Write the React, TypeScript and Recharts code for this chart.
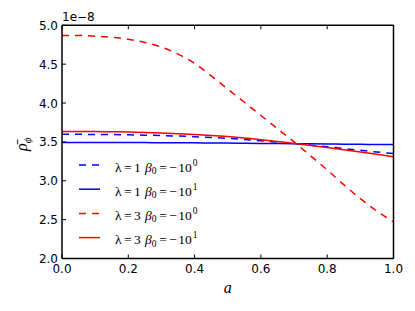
import { LineChart, Line, XAxis, YAxis, Legend, Label } from "recharts";

// a from 0 to 1, values of rho in units of 1e-8
const A_VALUES = [0, 0.05, 0.1, 0.15, 0.2, 0.25, 0.3, 0.35, 0.4, 0.45, 0.5, 0.55, 0.6, 0.65, 0.7, 0.75, 0.8, 0.85, 0.9, 0.95, 1.0];
const LAM1_BETA0 = [3.597, 3.597, 3.596, 3.594, 3.591, 3.587, 3.582, 3.575, 3.567, 3.557, 3.545, 3.531, 3.515, 3.497, 3.478, 3.458, 3.437, 3.415, 3.392, 3.37, 3.35];
const LAM1_BETA1 = [3.493, 3.493, 3.493, 3.492, 3.492, 3.491, 3.49, 3.489, 3.488, 3.486, 3.485, 3.483, 3.481, 3.479, 3.477, 3.475, 3.473, 3.471, 3.469, 3.467, 3.465];
const LAM3_BETA0 = [4.87, 4.87, 4.86, 4.845, 4.82, 4.78, 4.72, 4.63, 4.51, 4.35, 4.18, 4.01, 3.84, 3.67, 3.5, 3.32, 3.14, 2.95, 2.77, 2.61, 2.47];
const LAM3_BETA1 = [3.635, 3.635, 3.633, 3.63, 3.627, 3.622, 3.615, 3.605, 3.595, 3.583, 3.568, 3.55, 3.528, 3.505, 3.48, 3.455, 3.428, 3.4, 3.37, 3.34, 3.31];

const X_TICKS = [0, 0.2, 0.4, 0.6, 0.8, 1.0];
const Y_TICKS = [2.0, 2.5, 3.0, 3.5, 4.0, 4.5, 5.0];

const SERIES = [
  { key: "l1b0", lambda: "1", exp: "0", color: "#0000ff", dash: "7 6", values: LAM1_BETA0 },
  { key: "l1b1", lambda: "1", exp: "1", color: "#0000ff", dash: undefined, values: LAM1_BETA1 },
  { key: "l3b0", lambda: "3", exp: "0", color: "#ff0000", dash: "7 6", values: LAM3_BETA0 },
  { key: "l3b1", lambda: "3", exp: "1", color: "#ff0000", dash: undefined, values: LAM3_BETA1 },
];

const data = A_VALUES.map((a, i) => {
  const row: Record<string, number> = { a };
  SERIES.forEach((s) => {
    row[s.key] = s.values[i];
  });
  return row;
});

const SANS = "DejaVu Sans";
const SERIF = "Liberation Serif";
const TICK_LEN = 4;
const AXIS_LINE = { stroke: "#000", strokeWidth: 1.5 };

const BottomTick = (props: any) => {
  const { x, y, payload } = props;
  return (
    <g>
      <line x1={x} x2={x} y1={y} y2={y - TICK_LEN} stroke="#000" />
      <text x={x} y={y + 14.5} textAnchor="middle" fontSize={12} fontFamily={SANS} fill="#000">
        {payload.value.toFixed(1)}
      </text>
    </g>
  );
};

const TopTick = (props: any) => {
  const { x, y } = props;
  return <line x1={x} x2={x} y1={y} y2={y + TICK_LEN} stroke="#000" />;
};

const LeftTick = (props: any) => {
  const { x, y, payload } = props;
  return (
    <g>
      <line x1={x} x2={x + TICK_LEN} y1={y} y2={y} stroke="#000" />
      <text x={x - 4} y={y + 4.5} textAnchor="end" fontSize={12} fontFamily={SANS} fill="#000">
        {payload.value.toFixed(1)}
      </text>
    </g>
  );
};

const RightTick = (props: any) => {
  const { x, y } = props;
  return <line x1={x} x2={x - TICK_LEN} y1={y} y2={y} stroke="#000" />;
};

const LegendBox = () => (
  <svg width={150} height={96}>
    {SERIES.map((s, i) => {
      const cy = 12 + i * 24.2;
      const by = cy + 6.5;
      return (
        <g key={s.key}>
          <line x1={0} x2={21} y1={cy} y2={cy} stroke={s.color} strokeWidth={1.5} strokeDasharray={s.dash} />
          <text y={by} fontFamily={SERIF} fontSize={13.5} fill="#000">
            <tspan x={36}>λ</tspan>
            <tspan x={45}>=</tspan>
            <tspan x={55}>{s.lambda}</tspan>
            <tspan x={66} fontStyle="italic">β</tspan>
            <tspan x={72.7} y={by + 2.5} fontSize={9.5}>0</tspan>
            <tspan x={80.3} y={by}>=</tspan>
            <tspan x={90.3}>−</tspan>
            <tspan x={99.3}>10</tspan>
            <tspan x={113.7} y={by - 6} fontSize={9.5}>{s.exp}</tspan>
          </text>
        </g>
      );
    })}
  </svg>
);

export default function App() {
  return (
    <div style={{ position: "absolute", left: 0, top: 0, background: "#fff" }}>
      <LineChart
        width={415}
        height={311}
        data={data}
        margin={{ top: 20.3, right: 16.5, left: 22, bottom: 22.5 }}
      >
        <XAxis
          xAxisId="b"
          dataKey="a"
          type="number"
          domain={[0, 1]}
          ticks={X_TICKS}
          height={30}
          tickLine={false}
          tickSize={0}
          tickMargin={0}
          axisLine={AXIS_LINE}
          tick={<BottomTick />}
          interval={0}
        >
          <Label
            content={(p: any) => {
              const vb = p.viewBox;
              return (
                <text x={vb.x + vb.width / 2} y={vb.y + 34} textAnchor="middle" fontFamily={SERIF} fontStyle="italic" fontSize={16} fill="#000">
                  a
                </text>
              );
            }}
          />
        </XAxis>
        <XAxis
          xAxisId="t"
          dataKey="a"
          type="number"
          orientation="top"
          domain={[0, 1]}
          ticks={X_TICKS}
          height={5}
          tickLine={false}
          tickSize={0}
          tickMargin={0}
          axisLine={AXIS_LINE}
          tick={<TopTick />}
          interval={0}
        >
          <Label
            content={(p: any) => {
              const vb = p.viewBox;
              return (
                <text x={vb.x} y={vb.y + 1} fontFamily={SANS} fontSize={12} fill="#000">
                  1e−8
                </text>
              );
            }}
          />
        </XAxis>
        <YAxis
          yAxisId="l"
          type="number"
          domain={[2, 5]}
          ticks={Y_TICKS}
          width={40}
          tickLine={false}
          tickSize={0}
          tickMargin={0}
          axisLine={AXIS_LINE}
          tick={<LeftTick />}
          interval={0}
        >
          <Label
            content={(p: any) => {
              const vb = p.viewBox;
              const cy = vb.y + vb.height / 2 + 9;
              return (
                <text transform={`translate(${vb.x + 5},${cy}) rotate(-90)`} fontFamily={SERIF} fontStyle="italic" fontSize={16} fill="#000">
                  {"ρ\u0304"}
                  <tspan fontSize={11} dy={4}>ϕ</tspan>
                </text>
              );
            }}
          />
        </YAxis>
        <YAxis
          yAxisId="r"
          orientation="right"
          type="number"
          domain={[2, 5]}
          ticks={Y_TICKS}
          width={5}
          tickLine={false}
          tickSize={0}
          tickMargin={0}
          axisLine={AXIS_LINE}
          tick={<RightTick />}
          interval={0}
        />
        <Legend
          layout="vertical"
          align="center"
          verticalAlign="middle"
          content={<LegendBox />}
          wrapperStyle={{ left: 79, top: 153, width: 150, height: 96 }}
        />
        {SERIES.map((s) => (
          <Line
            key={s.key}
            xAxisId="b"
            yAxisId="l"
            dataKey={s.key}
            type="monotone"
            stroke={s.color}
            strokeWidth={1.5}
            strokeDasharray={s.dash}
            dot={false}
            activeDot={false}
            isAnimationActive={false}
          />
        ))}
      </LineChart>
    </div>
  );
}
